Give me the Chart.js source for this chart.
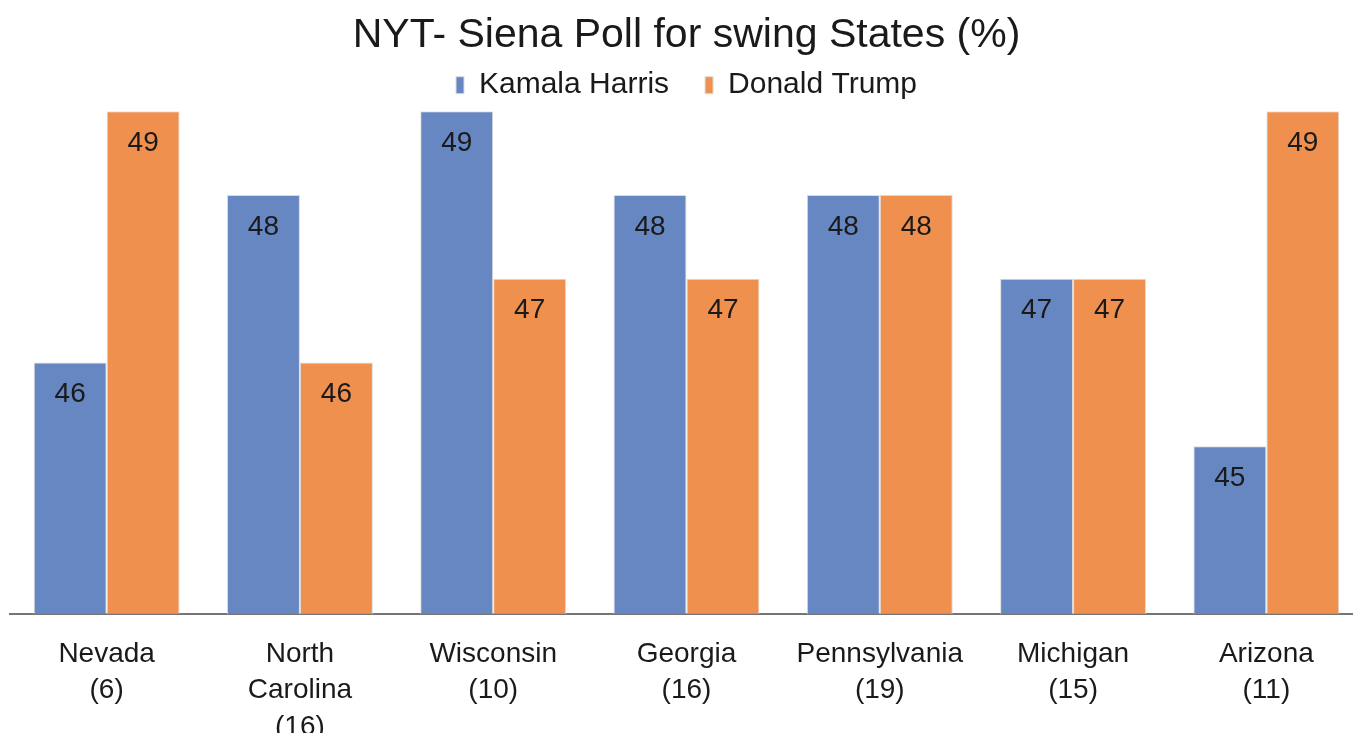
<!DOCTYPE html>
<html>
<head>
<meta charset="utf-8">
<title>NYT- Siena Poll for swing States</title>
<script src="https://cdn.jsdelivr.net/npm/chart.js@4"></script>
<style>
  html, body { margin: 0; padding: 0; background: #fff; overflow: hidden; }
  .wrap { position: relative; width: 1366px; height: 759px; }
</style>
</head>
<body>
<div class="wrap"><canvas id="poll"></canvas></div>
<script>
'use strict'

// data
const states = [
  ['Nevada', '(6)'],
  ['North', 'Carolina', '(16)'],
  ['Wisconsin', '(10)'],
  ['Georgia', '(16)'],
  ['Pennsylvania', '(19)'],
  ['Michigan', '(15)'],
  ['Arizona', '(11)']
]
const harris = [46, 48, 49, 48, 48, 47, 45]
const trump = [49, 46, 47, 47, 48, 47, 49]

const BLUE = '#6787C3'
const ORANGE = '#EF904F'
const FONT = "'Liberation Sans', Arial, sans-serif"

// value labels inside the top of each bar
const barValues = {
  id: 'barValues',
  afterDatasetsDraw(chart) {
    const c = chart.ctx
    c.save()
    c.font = '28px ' + FONT
    c.fillStyle = '#1a1a1a'
    c.textAlign = 'center'
    c.textBaseline = 'middle'
    chart.data.datasets.forEach((ds, i) => {
      chart.getDatasetMeta(i).data.forEach((bar, j) => {
        c.fillText(ds.data[j], bar.x, bar.y + 32)
      })
    })
    c.restore()
  }
}

// legend padding is used for the gap between items, fix up the height it adds
const tightLegend = {
  id: 'tightLegend',
  beforeInit(chart) {
    const fit = chart.legend.fit
    chart.legend.fit = function () {
      fit.call(this)
      this.height += 1
    }
  }
}

new Chart(document.getElementById('poll'), {
  type: 'bar',
  data: {
    labels: states,
    datasets: [
      {
        label: 'Kamala Harris',
        data: harris,
        backgroundColor: BLUE,
        borderColor: '#dcdcdc',
        borderWidth: 1
      },
      {
        label: 'Donald Trump',
        data: trump,
        backgroundColor: ORANGE,
        borderColor: '#dcdcdc',
        borderWidth: 1
      }
    ]
  },
  plugins: [tightLegend, barValues],
  options: {
    responsive: true,
    maintainAspectRatio: false,
    animation: false,
    layout: { padding: { left: 10, right: 3, top: 0, bottom: 0 } },
    datasets: {
      bar: { barPercentage: 1, categoryPercentage: 0.755 }
    },
    plugins: {
      title: {
        display: true,
        text: 'NYT- Siena Poll for swing States (%)',
        color: '#1a1a1a',
        font: { family: FONT, size: 41, weight: 'normal' },
        padding: { top: 11, bottom: -26 }
      },
      legend: {
        position: 'top',
        labels: {
          color: '#1a1a1a',
          font: { family: FONT, size: 30 },
          boxWidth: 8,
          boxHeight: 17,
          padding: 36
        }
      },
      tooltip: { enabled: false }
    },
    scales: {
      x: {
        grid: { display: false },
        border: { display: true, color: '#757575', width: 2 },
        ticks: {
          color: '#1a1a1a',
          font: { family: FONT, size: 28, lineHeight: 1.3 },
          padding: 14,
          maxRotation: 0,
          autoSkip: false
        }
      },
      y: {
        display: false,
        min: 43,
        max: 49
      }
    }
  }
})
</script>
</body>
</html>
